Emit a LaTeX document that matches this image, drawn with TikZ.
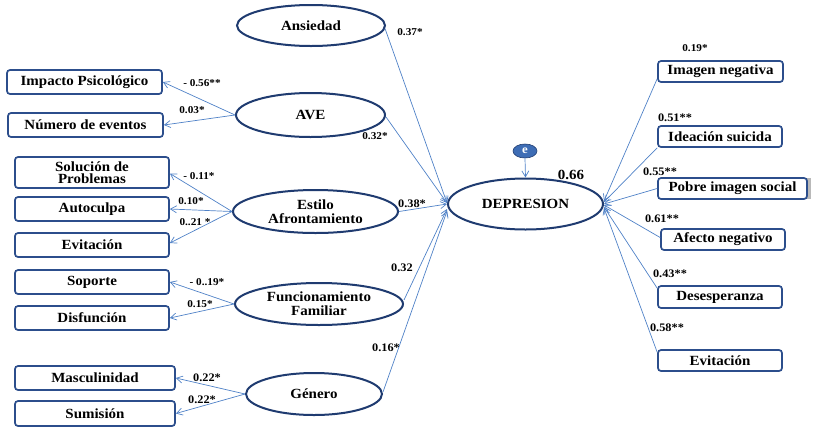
\documentclass[tikz,border=0pt]{standalone}
\usepackage{fontspec}
\setmainfont{Liberation Serif}[FakeStretch=1.07]
\usetikzlibrary{shapes.geometric,arrows.meta,calc}
\definecolor{navy}{HTML}{1F3B70}
\definecolor{boxblue}{HTML}{2C4E8C}
\definecolor{linkblue}{HTML}{4F81C7}
\definecolor{efill}{HTML}{3E6DB5}
\tikzset{
  lat/.style={ellipse, draw=navy, line width=2pt, inner sep=0pt, fill=white, align=center,
     font=\fontsize{14}{15}\selectfont\bfseries},
  obs/.style={rectangle, rounded corners=3pt, draw=boxblue, line width=1.7pt, inner sep=0pt, fill=white, align=center,
     font=\fontsize{14}{14.5}\selectfont\bfseries},
  link/.style={draw=linkblue, line width=0.7pt, -{Straight Barb[length=6pt,width=7pt]}},
  lab/.style={inner sep=0pt, font=\fontsize{10.5}{12}\selectfont\bfseries},
  labr/.style={inner sep=0pt, font=\fontsize{11.5}{12}\selectfont\bfseries},
}
\begin{document}
\begin{tikzpicture}[x=1pt,y=-1pt]
\useasboundingbox (0,0) rectangle (819,437);
% latent variables
\node[lat, minimum width=148, minimum height=41] (ans) at (311,25.5) {Ansiedad};
\node[lat, minimum width=149, minimum height=44] (ave) at (310.5,115) {AVE};
\node[lat, minimum width=165, minimum height=43] (est) at (315.5,211.5) {Estilo\\[-1pt]Afrontamiento};
\node[lat, minimum width=168, minimum height=42] (fun) at (319,304) {Funcionamiento\\[-1pt]Familiar};
\node[lat, minimum width=136, minimum height=42] (gen) at (314,394) {Género};
\node[lat, minimum width=155, minimum height=51] (dep) at (525.5,204) {DEPRESION};
\node[ellipse, fill=efill, draw=navy, line width=0.6pt, minimum width=24, minimum height=14, inner sep=0pt,
      text=white, font=\fontsize{12}{12}\selectfont\bfseries] (e) at (525,151) {e};
% left boxes
\node[obs, minimum width=155, minimum height=24] (imp) at (84.5,82) {Impacto Psicológico};
\node[obs, minimum width=155, minimum height=24] (num) at (85.5,125) {Número de eventos};
\node[obs, minimum width=154, minimum height=31] (sol) at (92,172.5) {Solución de\\[-2pt]Problemas};
\node[obs, minimum width=154, minimum height=24] (aut) at (92,209) {Autoculpa};
\node[obs, minimum width=154, minimum height=24] (evi) at (92,245) {Evitación};
\node[obs, minimum width=154, minimum height=24] (sop) at (92,282) {Soporte};
\node[obs, minimum width=154, minimum height=24] (dis) at (92,318) {Disfunción};
\node[obs, minimum width=160, minimum height=24] (mas) at (95,378) {Masculinidad};
\node[obs, minimum width=160, minimum height=25] (sum) at (95,413.5) {Sumisión};
% right boxes
\fill[gray!55] (805,178) rectangle (811,199);
\node[obs, minimum width=125, minimum height=21] (img) at (720.5,71.5) {Imagen negativa};
\node[obs, minimum width=124, minimum height=21] (ide) at (720,136.5) {Ideación suicida};
\node[obs, minimum width=149, minimum height=21] (pob) at (732.5,188.5) {Pobre imagen social};
\node[obs, minimum width=124, minimum height=21] (afe) at (723,239.5) {Afecto negativo};
\node[obs, minimum width=124, minimum height=22] (des) at (720,297) {Desesperanza};
\node[obs, minimum width=124, minimum height=21] (evr) at (720,360.5) {Evitación};
% connectors: latent -> indicators
\draw[link] (ave.west) -- (imp.east);
\draw[link] (ave.west) -- (num.east);
\draw[link] (est.west) -- ($(sol.east)+(0,1)$);
\draw[link] (est.west) -- (aut.east);
\draw[link] (est.west) -- ($(evi.east)+(0,-2)$);
\draw[link] (fun.west) -- (sop.east);
\draw[link] (fun.west) -- (dis.east);
\draw[link] (gen.west) -- (mas.east);
\draw[link] (gen.west) -- (sum.east);
% predictors -> DEPRESION
\draw[link] ($(ans.east)+(-1,3)$) -- ($(dep.west)+(0,-1)$);
\draw[link] ($(ave.east)+(0,2)$) -- ($(dep.west)+(0,-1)$);
\draw[link] (est.east) -- (dep.west);
\draw[link] ($(fun.east)+(0,-4)$) -- ($(dep.west)+(0,5)$);
\draw[link] ($(gen.east)+(0,-2)$) -- ($(dep.west)+(0,7)$);
% right indicators -> DEPRESION
\draw[link] ($(img.south west)+(0,-4)$) -- ($(dep.east)+(0,-3)$);
\draw[link] (ide.south west) -- ($(dep.east)+(0,-2)$);
\draw[link] (pob.west) -- (dep.east);
\draw[link] ($(afe.west)+(0,-2)$) -- ($(dep.east)+(0,1)$);
\draw[link] ($(des.north west)+(0,3)$) -- ($(dep.east)+(0,3)$);
\draw[link] ($(evr.north west)+(0,3)$) -- ($(dep.east)+(0,4)$);
% error
\draw[link] (e.south) -- (dep.north);
% labels
\node[lab] at (410,32) {0.37*};
\node[lab] at (202,83) {- 0.56**};
\node[lab] at (192,110) {0.03*};
\node[lab] at (375,136) {0.32*};
\node[lab] at (199,176) {- 0.11*};
\node[lab] at (191,201) {0.10*};
\node[lab] at (195,222) {0..21 *};
\node[labr] at (412,204) {0.38*};
\node[labr] at (402,268) {0.32};
\node[lab] at (207,282) {- 0..19*};
\node[lab] at (200,304) {0.15*};
\node[labr] at (386,348) {0.16*};
\node[labr] at (207,378) {0.22*};
\node[labr] at (202,400) {0.22*};
\node[inner sep=0pt, font=\fontsize{14}{14}\selectfont\bfseries] at (571,175) {0.66};
\node[lab] at (695,48) {0.19*};
\node[labr] at (675,118) {0.51**};
\node[labr] at (660,172) {0.55**};
\node[labr] at (662,219) {0.61**};
\node[labr] at (670,274) {0.43**};
\node[labr] at (667,328) {0.58**};
\end{tikzpicture}
\end{document}
